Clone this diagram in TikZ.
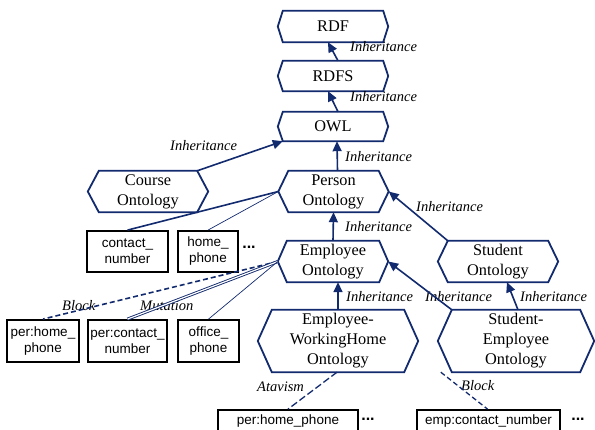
\documentclass[tikz,border=0pt]{standalone}
\usepackage{fontspec}
\setmainfont{Liberation Serif}
\setsansfont{Liberation Sans}
\usetikzlibrary{arrows.meta}
\definecolor{navy}{RGB}{18,42,110}
\begin{document}
\begin{tikzpicture}[x=1pt,y=-1pt,
 hexa/.style={inner sep=0pt, font=\fontsize{16.3}{20}\selectfont, align=center},
 boxn/.style={draw=black, line width=1.8pt, inner sep=0pt, font=\sffamily\fontsize{13.5}{16}\selectfont, align=center},
 lbl/.style={font=\itshape\fontsize{14.5}{17}\selectfont, inner sep=0pt, anchor=base west},
 hexline/.style={draw=navy, line width=1.8pt, line join=miter},
 inh/.style={draw=navy, line width=1.6pt, -{Triangle[length=10pt,width=9pt]}},
 conn/.style={draw=navy, line width=1.6pt},
 thinln/.style={draw=navy, line width=0.7pt},
 blk/.style={draw=navy, line width=1.6pt, dash pattern=on 5pt off 3pt},
 mut/.style={draw=navy, line width=0.9pt, double=white, double distance=1.2pt},
 dotsn/.style={font=\sffamily\bfseries\fontsize{16}{16}\selectfont, inner sep=0pt}]
\useasboundingbox (0,0) rectangle (595,430);
\clip (0,0) rectangle (595,430);

% hexagon nodes
\node[hexa, minimum width=110pt, minimum height=31pt] (rdf) at (333,26.5) {RDF};
\node[hexa, minimum width=110pt, minimum height=30pt] (rdfs) at (333,76) {RDFS};
\node[hexa, minimum width=110pt, minimum height=29pt] (owl) at (333,126.5) {OWL};
\node[hexa, minimum width=120pt, minimum height=41pt] (course) at (148,191.5) {Course\\Ontology};
\node[hexa, minimum width=110pt, minimum height=41pt] (person) at (333.5,191.5) {Person\\Ontology};
\node[hexa, minimum width=110pt, minimum height=41pt] (employee) at (333,261.5) {Employee\\Ontology};
\node[hexa, minimum width=120pt, minimum height=41pt] (student) at (498,261.5) {Student\\Ontology};
\node[hexa, minimum width=160pt, minimum height=62pt] (ewh) at (338,341) {Employee-\\WorkingHome\\Ontology};
\node[hexa, minimum width=156pt, minimum height=62pt] (se) at (516,341) {Student-\\Employee\\Ontology};

\foreach \n/\d in {rdf/5,rdfs/5,owl/5,course/11,person/10,employee/9,student/10,ewh/14,se/14}
  \draw[hexline] ([xshift=\d pt]\n.north west) -- ([xshift=-\d pt]\n.north east) -- (\n.east)
     -- ([xshift=-\d pt]\n.south east) -- ([xshift=\d pt]\n.south west) -- (\n.west) -- cycle;

% property boxes
\node[boxn, minimum width=81pt, minimum height=41pt] (cn) at (127.5,251.5) {contact\_\\number};
\node[boxn, minimum width=60pt, minimum height=41pt] (hp) at (208,251.5) {home\_\\phone};
\node[boxn, minimum width=72pt, minimum height=42pt] (phh) at (43,341) {per:home\_\\phone};
\node[boxn, minimum width=79pt, minimum height=42pt] (pcn) at (127.5,341) {per:contact\_\\number};
\node[boxn, minimum width=61pt, minimum height=42pt] (op) at (208.5,341) {office\_\\phone};
\node[boxn, minimum width=140pt, minimum height=22pt] (bhp) at (288,421) {per:home\_phone};
\node[boxn, minimum width=143pt, minimum height=22pt] (ecn) at (488.5,421) {emp:contact\_number};

% dots
\node[dotsn] (d1) at (249,247) {...};
\node[dotsn] (d2) at (368,419) {...};
\node[dotsn] (d3) at (578,419) {...};

% labels
\node[lbl] (l1) at (350,52) {Inheritance};
\node[lbl] (l2) at (350,102) {Inheritance};
\node[lbl] (l3) at (345,162) {Inheritance};
\node[lbl] (l4) at (170,151) {Inheritance};
\node[lbl] (l5) at (345,232) {Inheritance};
\node[lbl] (l6) at (416,212) {Inheritance};
\node[lbl] (l7) at (346,302) {Inheritance};
\node[lbl] (l8) at (425,302) {Inheritance};
\node[lbl] (l9) at (520,302) {Inheritance};
\node[lbl] (l10) at (62,311) {Block};
\node[lbl] (l11) at (140,311) {Mutation};
\node[lbl] (l12) at (257,392) {Atavism};
\node[lbl] (l13) at (461,391) {Block};

% connectors
\draw[inh] ([xshift=5pt]rdfs.north) -- ([xshift=-5pt]rdf.south);
\draw[inh] ([xshift=5pt]owl.north) -- ([xshift=-5pt]rdfs.south);
\draw[inh] ([xshift=4pt]person.north) -- ([xshift=4pt]owl.south);
\draw[inh] ([xshift=-11pt]course.north east) -- ([xshift=5pt]owl.south west);
\draw[inh] (employee.north) -- (person.south);
\draw[inh] ([xshift=10pt]student.north west) -- (person.east);
\draw[inh] (ewh.north) -- ([xshift=5pt]employee.south);
\draw[inh] ([xshift=14pt]se.north west) -- (employee.east);
\draw[inh] ([xshift=2pt]se.north) -- ([xshift=9pt]student.south);

\draw[conn] (person.west) -- (cn.north);
\draw[thinln] (person.west) -- (hp.north);
\draw[blk] (employee.west) -- (phh.north);
\draw[mut] (employee.west) -- (pcn.north);
\draw[thinln] (employee.west) -- (op.north);
\draw[blk, line width=1.3pt, dash pattern=on 7pt off 3pt] ([xshift=-1pt]ewh.south) -- (bhp.north);
\draw[blk, line width=1.3pt, dash pattern=on 5pt off 3pt] ([xshift=3pt]se.south west) -- ([xshift=-1pt]ecn.north);
\end{tikzpicture}
\end{document}
